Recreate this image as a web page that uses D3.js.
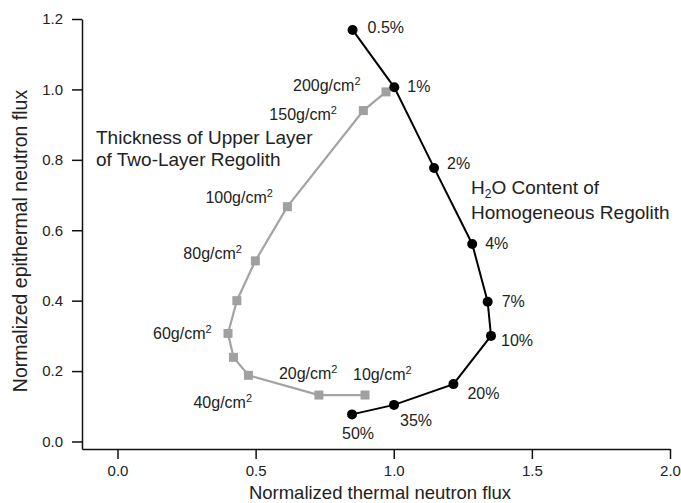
<!DOCTYPE html>
<html>
<head>
<meta charset="utf-8">
<script src="https://cdn.jsdelivr.net/npm/d3@7"></script>
<style>
  body { margin: 0; background: #fff; }
  svg text { font-family: "Liberation Sans", Arial, Helvetica, sans-serif; fill: #222; }
</style>
</head>
<body>
<div id="chart"></div>
<script>
// homogeneous regolith, H2O content
var waterLabels = ["0.5%", "1%", "2%", "4%", "7%", "10%", "20%", "35%", "50%"];
var waterThermal = [0.851, 1.002, 1.146, 1.284, 1.340, 1.352, 1.216, 1.001, 0.849];
var waterEpi = [1.169, 1.006, 0.777, 0.561, 0.397, 0.300, 0.163, 0.104, 0.077];

// two-layer regolith, thickness of upper layer (g/cm2), "" = no label
var layerLabels = ["200", "150", "100", "80", "", "60", "", "40", "20", "10"];
var layerThermal = [0.972, 0.890, 0.615, 0.499, 0.432, 0.400, 0.420, 0.474, 0.729, 0.896];
var layerEpi = [0.993, 0.940, 0.667, 0.513, 0.400, 0.307, 0.239, 0.188, 0.132, 0.132];

var xTicks = [0, 0.5, 1.0, 1.5, 2.0];
var yTicks = [0, 0.2, 0.4, 0.6, 0.8, 1.0, 1.2];

// label offsets in px (label start / vertical centre relative to point)
var waterOff = [[15, -3], [13, -1], [13, -5], [13, -1], [14, 0], [10, 5], [14, 9], [6, 16], [-10, 19]];
var layerOff = [[-93, -7], [-94, 4], [-82, -9], [-72, -8], null, [-75, 0], null, [-55, 27], [-40, -22], [-12, -21]];

drawChart("chart");

function drawChart(divname) {
    var width = 681, height = 503;
    var svg = d3.select("#" + divname).append("svg")
        .attr("width", width)
        .attr("height", height);

    var x = d3.scaleLinear().domain([-0.1285, 2.0]).range([82, 670]);
    var y = d3.scaleLinear().domain([-0.0213, 1.2]).range([449, 19]);

    // axes
    var gx = svg.append("g")
        .attr("transform", "translate(0," + y.range()[0] + ")")
        .call(d3.axisBottom(x).tickValues(xTicks).tickFormat(d3.format(".1f"))
            .tickSize(10).tickSizeOuter(0).tickPadding(6));
    var gy = svg.append("g")
        .attr("transform", "translate(" + x.range()[0] + ",0)")
        .call(d3.axisLeft(y).tickValues(yTicks).tickFormat(d3.format(".1f"))
            .tickSize(10).tickSizeOuter(0).tickPadding(9));
    [gx, gy].forEach(function (g) {
        g.select(".domain").attr("stroke", "#111").attr("stroke-width", 1.5);
        g.selectAll(".tick line").attr("stroke", "#111").attr("stroke-width", 1.5);
        g.selectAll(".tick text").style("font-size", "15px").attr("fill", "#222");
    });

    svg.append("text")
        .attr("x", 380).attr("y", 499)
        .style("text-anchor", "middle").style("font-size", "18.5px")
        .text("Normalized thermal neutron flux");
    svg.append("text")
        .attr("transform", "translate(20,241) rotate(-90)")
        .attr("dy", "0.35em")
        .style("text-anchor", "middle").style("font-size", "19.5px")
        .text("Normalized epithermal neutron flux");

    var line = d3.line()
        .x(function (d) { return x(d[0]); })
        .y(function (d) { return y(d[1]); });

    // two-layer (grey)
    var layerPts = layerThermal.map(function (v, i) { return [v, layerEpi[i]]; });
    svg.append("path")
        .attr("d", line(layerPts))
        .attr("fill", "none")
        .attr("stroke", "#a3a3a3")
        .attr("stroke-width", 2.2);
    svg.selectAll("rect.layer")
        .data(layerPts)
        .enter()
        .append("rect")
        .attr("class", "layer")
        .attr("x", function (d) { return x(d[0]) - 4.5; })
        .attr("y", function (d) { return y(d[1]) - 4.5; })
        .attr("width", 9)
        .attr("height", 9)
        .attr("fill", "#a0a0a0");

    // homogeneous (black)
    var waterPts = waterThermal.map(function (v, i) { return [v, waterEpi[i]]; });
    svg.append("path")
        .attr("d", line(waterPts))
        .attr("fill", "none")
        .attr("stroke", "#000")
        .attr("stroke-width", 2);
    svg.selectAll("circle.water")
        .data(waterPts)
        .enter()
        .append("circle")
        .attr("class", "water")
        .attr("cx", function (d) { return x(d[0]); })
        .attr("cy", function (d) { return y(d[1]); })
        .attr("r", 5)
        .attr("fill", "#000");

    // point labels
    svg.selectAll("text.wlab")
        .data(waterPts)
        .enter()
        .append("text")
        .attr("class", "wlab")
        .attr("x", function (d, i) { return x(d[0]) + waterOff[i][0]; })
        .attr("y", function (d, i) { return y(d[1]) + waterOff[i][1]; })
        .attr("dy", "0.35em")
        .style("font-size", "16px")
        .text(function (d, i) { return waterLabels[i]; });

    layerPts.forEach(function (d, i) {
        if (!layerLabels[i]) return;
        var t = svg.append("text")
            .attr("x", x(d[0]) + layerOff[i][0])
            .attr("y", y(d[1]) + layerOff[i][1] + 5.7)
            .style("font-size", "16px");
        t.append("tspan").text(layerLabels[i] + "g/cm");
        t.append("tspan").attr("dy", -6).style("font-size", "11px").text("2");
    });

    // annotations
    var a1 = svg.append("text").style("font-size", "19px");
    a1.append("tspan").attr("x", 96).attr("y", 144).text("Thickness of Upper Layer");
    a1.append("tspan").attr("x", 96).attr("y", 166).text("of Two-Layer Regolith");

    var a2 = svg.append("text").style("font-size", "19px");
    a2.append("tspan").attr("x", 471).attr("y", 193.5).text("H");
    a2.append("tspan").attr("dy", 4).style("font-size", "12px").text("2");
    a2.append("tspan").attr("dy", -4).text("O Content of");
    a2.append("tspan").attr("x", 471).attr("y", 218.5).text("Homogeneous Regolith");
}
</script>
</body>
</html>
